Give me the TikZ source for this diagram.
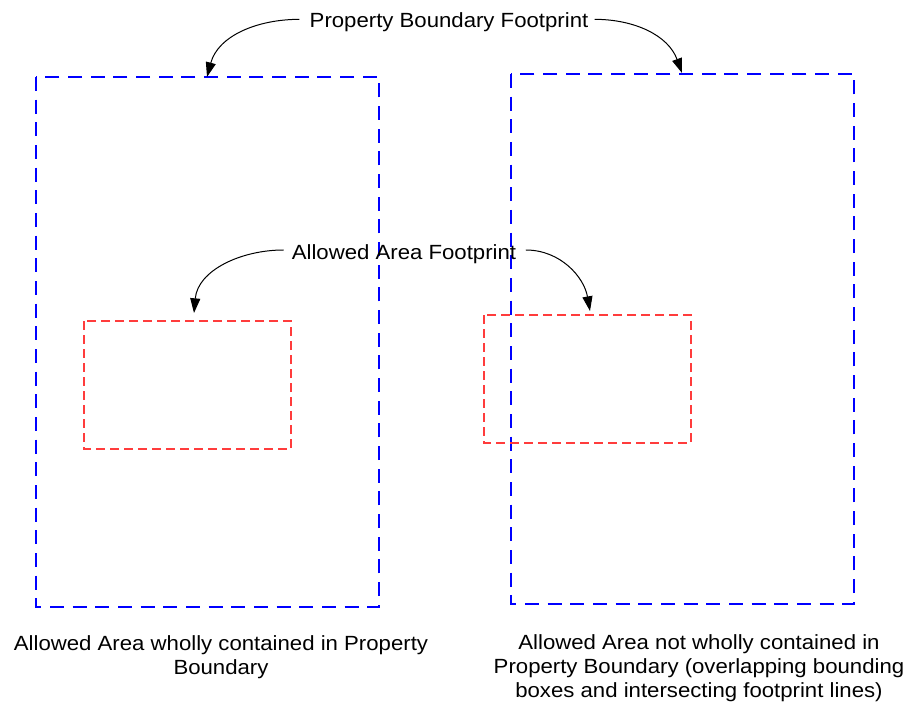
\documentclass[tikz,border=0pt]{standalone}
\usepackage{fontspec}
\setmainfont{Liberation Sans}[FakeStretch=1.08]
\usetikzlibrary{arrows.meta}
\definecolor{aared}{RGB}{255,60,60}
\begin{document}
\begin{tikzpicture}[x=0.75pt,y=-0.75pt,
  prop/.style={draw=blue,line width=1.5pt,dash pattern=on 10.5pt off 6.5pt},
  allowed/.style={draw=aared,line width=1pt,dash pattern=on 7pt off 3.5pt},
  lbl/.style={font=\fontsize{15.4pt}{18pt}\selectfont,inner sep=0pt,align=center},
  callout/.style={draw=black,line width=0.75pt,-{Triangle[length=11pt,width=7.5pt]}}]
\useasboundingbox (0,0) rectangle (906,709);
% property boundaries
\draw[prop] (36,77) rectangle (379,607);
\draw[prop] (511,74) rectangle (854,604);
% allowed areas
\draw[allowed] (84,321) rectangle (291,449);
\draw[allowed] (484,315) rectangle (691,443);
% labels
\node[lbl] (pbf) at (449,22) {Property Boundary Footprint};
\node[lbl] (aaf) at (404,254) {Allowed Area Footprint};
\node[lbl,anchor=north] (capL) at (221,635) {Allowed Area wholly contained in Property\\Boundary};
\node[lbl,anchor=north] (capR) at (699,634) {Allowed Area not wholly contained in\\Property Boundary (overlapping bounding\\boxes and intersecting footprint lines)};
% callout targets
\coordinate (pbL) at (207,77);
\coordinate (pbR) at (682,73);
\coordinate (aaL) at (194,313);
\coordinate (aaR) at (590,311);
\draw[callout] ([xshift=-7.5pt,yshift=2pt]pbf.west) to[out=180,in=75] (pbL);
\draw[callout] ([xshift=4.5pt,yshift=2pt]pbf.east) to[out=0,in=110] (pbR);
\draw[callout] ([xshift=-6pt,yshift=3pt]aaf.west) to[out=180,in=85] (aaL);
\draw[callout] ([xshift=7pt,yshift=3pt]aaf.east) to[out=0,in=100] (aaR);
\end{tikzpicture}
\end{document}
